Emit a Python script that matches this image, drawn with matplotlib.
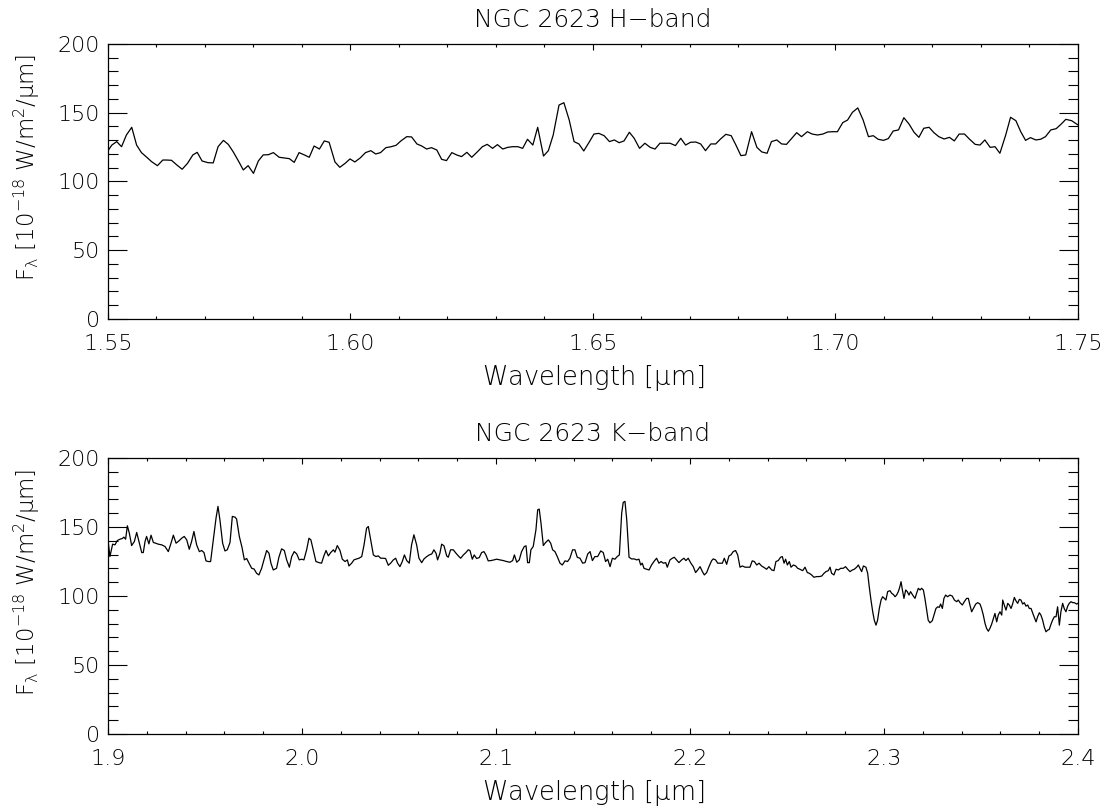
import matplotlib
matplotlib.use('Agg')
import matplotlib.pyplot as plt
from matplotlib.ticker import MultipleLocator

plt.rcParams['font.family'] = ['DejaVu Sans']
plt.rcParams['font.weight'] = 'light'
plt.rcParams['axes.titleweight'] = 'light'
plt.rcParams['axes.labelweight'] = 'light'
plt.rcParams['mathtext.fontset'] = 'custom'
plt.rcParams['mathtext.rm'] = 'DejaVu Sans:light'
plt.rcParams['mathtext.it'] = 'DejaVu Sans:light'

# H-band spectrum (wavelength in micron, flux in 1e-18 W/m2/um)
wave_h = [1.5500, 1.5508, 1.5518, 1.5528, 1.5538, 1.5549, 1.5559, 1.5569, 1.5580, 1.5590,
          1.5602, 1.5613, 1.5621, 1.5631, 1.5642, 1.5653, 1.5664, 1.5675, 1.5684, 1.5694,
          1.5706, 1.5717, 1.5727, 1.5738, 1.5748, 1.5758, 1.5769, 1.5779, 1.5789, 1.5800,
          1.5810, 1.5820, 1.5831, 1.5841, 1.5853, 1.5863, 1.5874, 1.5884, 1.5894, 1.5905,
          1.5915, 1.5925, 1.5936, 1.5946, 1.5956, 1.5968, 1.5978, 1.5989, 1.5999, 1.6009,
          1.6020, 1.6031, 1.6042, 1.6052, 1.6062, 1.6073, 1.6084, 1.6094, 1.6104, 1.6116,
          1.6126, 1.6137, 1.6147, 1.6157, 1.6167, 1.6178,
          1.6188, 1.6198, 1.6209, 1.6219, 1.6229, 1.6240, 1.6250, 1.6262, 1.6272, 1.6282,
          1.6293, 1.6303, 1.6314, 1.6324, 1.6334, 1.6345, 1.6355, 1.6365, 1.6376, 1.6386,
          1.6398, 1.6408, 1.6418, 1.6430, 1.6440, 1.6451, 1.6461, 1.6471, 1.6481, 1.6492,
          1.6502, 1.6512, 1.6523, 1.6534, 1.6544, 1.6554, 1.6564, 1.6575, 1.6585, 1.6596,
          1.6607, 1.6618, 1.6628, 1.6638, 1.6648, 1.6659, 1.6670, 1.6681, 1.6691, 1.6701,
          1.6712, 1.6722, 1.6732, 1.6743, 1.6753, 1.6763, 1.6774, 1.6785, 1.6795, 1.6805,
          1.6815, 1.6827, 1.6838, 1.6848, 1.6859,
          1.6868, 1.6879, 1.6889, 1.6899, 1.6910, 1.6920, 1.6930, 1.6942, 1.6952, 1.6963,
          1.6974, 1.6984, 1.6994, 1.7004, 1.7015, 1.7025, 1.7035, 1.7046, 1.7057, 1.7068,
          1.7078, 1.7088, 1.7099, 1.7109, 1.7119, 1.7130, 1.7141, 1.7152, 1.7162, 1.7172,
          1.7182, 1.7193, 1.7203, 1.7213, 1.7224, 1.7235, 1.7245, 1.7255, 1.7266, 1.7276,
          1.7288, 1.7298, 1.7308, 1.7319, 1.7329, 1.7339, 1.7351, 1.7361, 1.7372, 1.7382,
          1.7392, 1.7402, 1.7413, 1.7423, 1.7433, 1.7444, 1.7455, 1.7465, 1.7475, 1.7487,
          1.7497, 1.7500]
flux_h = [122.4, 126.5, 129.0, 125.3, 133.8, 139.4, 126.5, 121.0, 117.6, 114.4,
          111.5, 115.6, 115.6, 115.4, 112.0, 108.9, 113.2, 119.3, 121.2, 114.9,
          113.7, 113.5, 125.3, 129.9, 127.0, 121.7, 114.9, 108.4, 111.5, 105.9,
          114.9, 119.3, 119.5, 121.0, 117.6, 117.1, 116.6, 113.9, 121.0, 119.3,
          117.6, 125.8, 123.6, 129.5, 128.5, 114.2, 110.3, 113.2, 116.4, 114.2,
          117.1, 121.0, 122.4, 120.0, 121.0, 124.6, 125.3, 126.3, 129.5, 132.6,
          132.4, 127.3, 125.8, 123.6, 124.6, 122.9,
          116.1, 115.2, 121.0, 119.3, 118.1, 121.2, 117.6, 121.7, 125.3, 127.0,
          124.1, 126.8, 123.6, 124.8, 125.3, 125.3, 124.1, 130.7, 126.5, 139.4,
          118.5, 122.4, 133.8, 155.6, 157.3, 144.7, 129.0, 127.3, 122.2, 128.5,
          134.5, 135.0, 133.3, 129.0, 130.2, 128.2, 129.5, 135.8, 131.4, 124.1,
          127.8, 124.8, 123.6, 127.8, 127.8, 127.8, 126.1, 131.4, 126.5, 128.5,
          128.7, 127.3, 122.4, 127.3, 127.3, 130.9, 134.3, 133.3, 126.3, 118.8,
          119.3, 136.2, 124.8, 121.5, 120.5,
          129.0, 130.2, 127.3, 127.0, 131.4, 135.5, 132.6, 136.2, 134.5, 133.8,
          134.5, 136.0, 136.2, 136.2, 142.8, 144.7, 150.3, 153.5, 144.7, 132.6,
          133.3, 130.7, 129.9, 131.2, 136.7, 137.5, 146.4, 141.6, 135.8, 132.1,
          138.7, 139.4, 135.5, 132.6, 130.9, 132.1, 129.5, 134.5, 134.5, 130.9,
          127.0, 126.5, 130.2, 124.8, 125.3, 120.5, 133.8, 146.7, 144.2, 136.2,
          129.9, 131.9, 130.2, 130.7, 132.6, 137.5, 138.4, 141.6, 145.2, 144.2,
          141.8, 141.1]

# K-band spectrum
wave_k = [1.9000, 1.9010, 1.9024, 1.9036, 1.9048, 1.9062, 1.9074, 1.9082, 1.9091, 1.9100,
          1.9110, 1.9122, 1.9136, 1.9148, 1.9162, 1.9174, 1.9182, 1.9191, 1.9199, 1.9211,
          1.9222, 1.9234, 1.9246, 1.9259, 1.9277, 1.9294, 1.9311, 1.9325, 1.9337, 1.9351,
          1.9366, 1.9380, 1.9393, 1.9406, 1.9419, 1.9431, 1.9443, 1.9457, 1.9471, 1.9483,
          1.9495, 1.9505, 1.9517, 1.9529, 1.9543, 1.9557, 1.9567, 1.9577, 1.9591, 1.9603,
          1.9615, 1.9629, 1.9641, 1.9655, 1.9663, 1.9677, 1.9691, 1.9703, 1.9715, 1.9727,
          1.9741, 1.9753, 1.9766, 1.9778, 1.9792, 1.9804, 1.9818, 1.9830, 1.9840, 1.9852,
          1.9869, 1.9881, 1.9895, 1.9909, 1.9921, 1.9935, 1.9947, 1.9960, 1.9973, 1.9986,
          1.9998, 2.0010, 2.0024, 2.0036, 2.0046, 2.0058, 2.0072, 2.0088, 2.0101, 2.0113,
          2.0124, 2.0136, 2.0148, 2.0162, 2.0170, 2.0182, 2.0196, 2.0208, 2.0222, 2.0234,
          2.0242, 2.0256, 2.0268, 2.0282, 2.0294, 2.0308, 2.0320, 2.0333, 2.0342, 2.0354,
          2.0368, 2.0381, 2.0393, 2.0406, 2.0419, 2.0431, 2.0445, 2.0457, 2.0471, 2.0483,
          2.0493, 2.0505, 2.0517, 2.0528, 2.0540, 2.0553, 2.0565, 2.0577, 2.0591, 2.0603,
          2.0617, 2.0629, 2.0643, 2.0656, 2.0669, 2.0680, 2.0691, 2.0699, 2.0711,
          2.0720, 2.0732, 2.0746, 2.0754, 2.0766, 2.0780, 2.0794, 2.0806, 2.0818, 2.0832,
          2.0845, 2.0857, 2.0866, 2.0878, 2.0888, 2.0900, 2.0914, 2.0926, 2.0938, 2.0948,
          2.0960, 2.0974, 2.0990, 2.1003, 2.1021, 2.1038, 2.1055, 2.1072, 2.1086, 2.1095,
          2.1107, 2.1120, 2.1132, 2.1146, 2.1155, 2.1163, 2.1172, 2.1180, 2.1192, 2.1206,
          2.1215, 2.1223, 2.1232, 2.1244, 2.1256, 2.1270, 2.1282, 2.1292, 2.1304, 2.1316,
          2.1330, 2.1342, 2.1356, 2.1369, 2.1381, 2.1395, 2.1407, 2.1419, 2.1433, 2.1447,
          2.1459, 2.1473, 2.1485, 2.1497, 2.1510, 2.1524, 2.1540, 2.1553, 2.1565, 2.1576,
          2.1588, 2.1600, 2.1613, 2.1625, 2.1636, 2.1648, 2.1656, 2.1665, 2.1674, 2.1686,
          2.1699, 2.1713, 2.1725, 2.1737, 2.1746, 2.1754, 2.1763, 2.1777, 2.1789, 2.1802,
          2.1814, 2.1828, 2.1840, 2.1851, 2.1863, 2.1875, 2.1883, 2.1897, 2.1909, 2.1919,
          2.1931, 2.1943, 2.1957, 2.1969, 2.1979, 2.1991, 2.2003, 2.2017, 2.2029, 2.2040,
          2.2052, 2.2064, 2.2074, 2.2086, 2.2098, 2.2112, 2.2120, 2.2132, 2.2143, 2.2155,
          2.2167, 2.2177, 2.2189, 2.2201, 2.2211, 2.2223, 2.2235, 2.2246, 2.2258, 2.2270,
          2.2284, 2.2297, 2.2309, 2.2321, 2.2332, 2.2344, 2.2356, 2.2369, 2.2383, 2.2395,
          2.2407,
          2.2421, 2.2433, 2.2443, 2.2455, 2.2467, 2.2476, 2.2485, 2.2493, 2.2502, 2.2512,
          2.2521, 2.2533, 2.2545, 2.2555, 2.2567, 2.2581, 2.2593, 2.2605, 2.2615, 2.2627,
          2.2639, 2.2653, 2.2667, 2.2679, 2.2691, 2.2701, 2.2713, 2.2722, 2.2730, 2.2742,
          2.2753, 2.2765, 2.2777, 2.2790, 2.2802, 2.2813, 2.2825, 2.2837, 2.2847, 2.2859,
          2.2868, 2.2876, 2.2885, 2.2894, 2.2907, 2.2916, 2.2924, 2.2933, 2.2942, 2.2950,
          2.2959, 2.2967, 2.2976, 2.2985, 2.2993, 2.3002, 2.3010, 2.3019, 2.3031, 2.3040,
          2.3048, 2.3057, 2.3065, 2.3074, 2.3082, 2.3088, 2.3095, 2.3103, 2.3112, 2.3120,
          2.3129, 2.3137, 2.3148, 2.3160, 2.3168, 2.3177, 2.3186, 2.3194, 2.3203, 2.3211,
          2.3220, 2.3228, 2.3237, 2.3249, 2.3258, 2.3268, 2.3277, 2.3285, 2.3292, 2.3301,
          2.3309, 2.3318, 2.3328, 2.3340, 2.3352, 2.3363, 2.3375, 2.3383, 2.3392, 2.3404,
          2.3414, 2.3426, 2.3435, 2.3443, 2.3452, 2.3461, 2.3473, 2.3483, 2.3495, 2.3503,
          2.3512, 2.3521, 2.3529, 2.3538, 2.3546, 2.3555, 2.3564, 2.3572, 2.3581, 2.3589,
          2.3598, 2.3607, 2.3612, 2.3620, 2.3629, 2.3638, 2.3646, 2.3655, 2.3663, 2.3672,
          2.3680, 2.3689, 2.3698, 2.3706, 2.3715, 2.3723, 2.3732, 2.3741, 2.3749, 2.3758,
          2.3766, 2.3775, 2.3784, 2.3792, 2.3801, 2.3809, 2.3818, 2.3826, 2.3835, 2.3844,
          2.3852, 2.3861, 2.3869, 2.3878, 2.3887, 2.3895, 2.3904, 2.3912, 2.3921, 2.3929,
          2.3938, 2.3947, 2.3955, 2.3964, 2.3973, 2.3981, 2.3993, 2.4000]
flux_k = [140.7, 128.6, 137.6, 137.1, 140.2, 141.2, 141.7, 142.7, 141.2, 150.9,
          145.6, 136.6, 139.5, 146.1, 138.3, 131.5, 131.5, 139.5, 143.2, 137.8,
          144.1, 138.8, 138.3, 137.6, 137.1, 135.9, 132.2, 138.3, 144.1, 138.3,
          140.0, 141.9, 143.2, 140.7, 133.9, 139.5, 146.8, 137.1, 132.2, 133.0,
          131.5, 125.5, 125.0, 125.0, 140.7, 156.5, 165.0, 155.3, 138.3, 132.7,
          133.5, 138.8, 157.7, 157.2, 155.8, 143.2, 135.2, 126.2, 127.2, 123.8,
          120.1, 119.6, 116.5, 115.3, 120.1, 126.2, 133.0, 131.0, 123.8, 118.9,
          120.1, 128.1, 134.2, 133.0, 126.2, 120.9, 128.6, 132.2, 130.5, 126.2,
          126.7, 126.2, 133.5, 141.9, 140.7, 133.5, 125.0, 124.2, 123.8, 129.1,
          133.0, 129.1, 131.5, 133.5, 131.8, 136.6, 133.0, 126.7, 125.0, 126.2,
          121.8, 123.8, 126.2, 126.9, 127.4, 128.6, 137.1, 149.2, 150.4, 140.7,
          129.8, 128.6, 129.1, 127.4, 127.4, 127.2, 122.3, 123.8, 126.2, 127.4,
          123.8, 121.3, 125.0, 129.8, 125.7, 123.8, 137.1, 144.4, 137.1, 127.4,
          124.2, 126.9, 128.6, 129.8, 130.5, 133.5, 131.0, 126.2, 131.0,
          137.6, 136.4, 129.1, 128.1, 133.5, 133.5, 131.0, 129.1, 127.4, 129.8,
          131.5, 133.5, 133.0, 126.7, 129.8, 127.2, 127.9, 131.5, 132.2, 129.8,
          125.5, 125.7, 126.2, 126.7, 126.2, 125.7, 125.0, 124.5, 125.7, 129.8,
          124.5, 126.2, 132.2, 135.9, 136.4, 124.2, 124.2, 133.5, 135.9, 148.0,
          162.5, 163.0, 152.9, 136.6, 138.8, 140.7, 138.3, 133.5, 132.2, 128.6,
          123.8, 122.5, 125.5, 125.0, 127.4, 133.5, 133.5, 128.1, 127.4, 123.8,
          124.2, 130.5, 132.2, 125.7, 128.6, 128.6, 132.7, 131.5, 125.0, 126.7,
          121.3, 127.4, 126.7, 128.6, 129.8, 160.1, 167.9, 168.6, 155.3, 128.1,
          126.9, 126.9, 126.2, 126.7, 122.5, 123.8, 120.1, 119.4, 118.9, 122.5,
          125.0, 127.4, 123.8, 125.0, 123.8, 124.2, 120.9, 126.2, 127.4, 128.1,
          126.2, 124.2, 126.2, 127.4, 125.7, 127.4, 124.2, 121.3, 117.0, 118.9,
          121.3, 117.7, 115.3, 117.0, 121.3, 125.7, 126.9, 126.2, 123.8, 123.8,
          123.8, 127.4, 123.0, 129.1, 129.8, 132.2, 133.0, 129.8, 120.9, 121.8,
          120.9, 120.9, 120.9, 125.5, 125.0, 122.5, 123.8, 121.8, 120.6, 119.4,
          121.3,
          118.9, 118.4, 125.0, 125.7, 128.1, 128.6, 123.8, 126.7, 122.5, 125.0,
          120.9, 122.5, 121.8, 120.1, 119.4, 118.4, 120.9, 117.0, 116.5, 115.3,
          113.6, 114.1, 114.1, 114.5, 116.5, 117.7, 118.4, 120.9, 116.5, 115.3,
          119.4, 118.9, 120.1, 120.1, 121.3, 119.4, 117.7, 118.9, 119.4, 120.9,
          122.5, 120.1, 117.7, 121.8, 120.9, 116.5, 106.8, 97.1, 88.6, 82.5,
          78.9, 82.5, 91.0, 97.1, 99.5, 98.3, 97.1, 103.2, 103.9, 101.9,
          101.2, 99.5, 100.7, 103.2, 106.8, 110.4, 104.4, 98.3, 104.4, 103.2,
          100.7, 103.2, 100.7, 98.3, 101.9, 105.6, 104.4, 105.6, 104.4, 98.3,
          89.8, 82.5, 80.6, 82.1, 86.2, 91.0, 92.2, 91.8, 94.2, 91.0,
          98.3, 100.7, 99.5, 100.7, 100.0, 97.1, 95.9, 97.1, 95.2, 93.5,
          95.9, 98.3, 98.3, 93.5, 88.6, 91.0, 94.2, 95.2, 94.2, 91.0,
          86.2, 80.1, 76.5, 74.5, 76.5, 79.6, 83.8, 87.4, 81.3, 86.2,
          88.6, 86.2, 97.1, 93.5, 89.8, 94.7, 93.5, 91.0, 94.2, 99.0,
          96.6, 94.7, 97.6, 97.1, 94.2, 95.2, 92.7, 93.5, 91.0, 91.0,
          87.9, 84.5, 81.3, 85.0, 87.9, 86.2, 82.5, 77.7, 74.1, 75.3,
          75.8, 79.6, 82.5, 85.0, 85.0, 92.2, 78.9, 88.6, 94.7, 91.0,
          88.6, 92.7, 94.7, 95.9, 95.2, 95.2, 94.2, 94.7]

titles = ['NGC 2623 H\u2212band', 'NGC 2623 K\u2212band']
ylabel = r'F$_\lambda$ [10$^{-18}$ W/m$^2$/$\mu$m]'
xlabel = r'Wavelength [$\mu$m]'

fig = plt.figure(figsize=(11.12, 8.10), dpi=100)
ax1 = fig.add_axes([0.0971, 0.6062, 0.8723, 0.3395])
ax2 = fig.add_axes([0.0971, 0.0938, 0.8723, 0.3407])

panels = [(ax1, wave_h, flux_h, (1.55, 1.75), 0.05, 0.01, '%.2f'),
          (ax2, wave_k, flux_k, (1.9, 2.4), 0.1, 0.02, '%.1f')]

for i, (ax, w, f, xr, xmaj, xmin, fmt) in enumerate(panels):
    ax.plot(w, f, color='black', lw=0.9)
    ax.set_xlim(*xr)
    ax.set_ylim(0, 200)
    ax.xaxis.set_major_locator(MultipleLocator(xmaj))
    ax.xaxis.set_minor_locator(MultipleLocator(xmin))
    ax.xaxis.set_major_formatter(plt.FormatStrFormatter(fmt))
    ax.yaxis.set_major_locator(MultipleLocator(50))
    ax.yaxis.set_minor_locator(MultipleLocator(10))
    ax.tick_params(axis='both', which='both', direction='in', top=True, right=True,
                   width=0.8, color='black', labelsize=16)
    ax.tick_params(axis='y', which='major', length=14, pad=6)
    ax.tick_params(axis='y', which='minor', length=7)
    ax.tick_params(axis='x', which='major', length=4, pad=11)
    ax.tick_params(axis='x', which='minor', length=2)
    for s in ax.spines.values():
        s.set_linewidth(0.9)
    ax.set_title(titles[i], fontsize=18, pad=12)
    ax.set_xlabel(xlabel, fontsize=18.5, labelpad=6)
    ax.set_ylabel(ylabel, fontsize=16.5)
    ax.yaxis.set_label_coords(-0.068, 0.55)

fig.savefig('out.png', dpi=100)
